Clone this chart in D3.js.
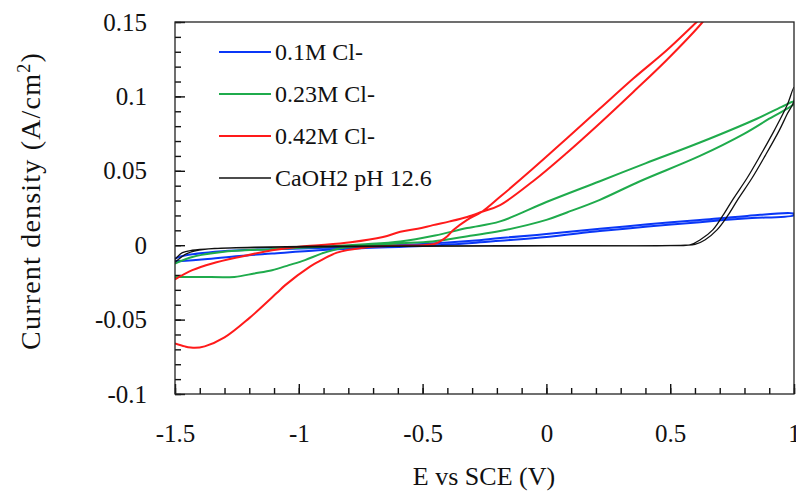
<!DOCTYPE html>
<html>
<head>
  <meta charset="utf-8">
  <title>Cyclic voltammetry</title>
  <script src="https://d3js.org/d3.v7.min.js"></script>
  <style>
    body { margin: 0; background: #fff; }
    text { font-family: "Liberation Serif", "Times New Roman", serif; fill: #111; }
  </style>
</head>
<body>
  <svg id="grafico"></svg>

  <script>
    // E vs SCE (V), current density (A/cm2) -- each curve is a loop (forward + return scan)
    const cl01 = [
      [-1.5, -0.011], [-1.38, -0.0094], [-1.24, -0.0072], [-1.108, -0.0056], [-0.92, -0.0034],
      [-0.75, -0.002], [-0.5, -0.0005], [-0.3, 0.0015], [-0.187, 0.003], [0.0, 0.0055],
      [0.216, 0.0095], [0.41, 0.0125], [0.62, 0.0155], [0.8, 0.018], [1.0, 0.0202],
      [1.0, 0.0212], [0.8, 0.0195], [0.62, 0.017], [0.41, 0.014], [0.216, 0.011],
      [0.0, 0.0075], [-0.187, 0.0048], [-0.3, 0.003], [-0.5, 0.0008], [-0.75, -0.0008],
      [-0.92, -0.0018], [-1.11, -0.0027], [-1.31, -0.004], [-1.47, -0.0072], [-1.5, -0.009]
    ];

    const cl023 = [
      [-1.5, -0.0213], [-1.4, -0.0213], [-1.26, -0.0213], [-1.18, -0.019], [-1.108, -0.0168],
      [-1.04, -0.0134], [-0.975, -0.010], [-0.906, -0.0055], [-0.83, -0.002], [-0.7, 0.0],
      [-0.6, 0.0012], [-0.46, 0.0025], [-0.3, 0.0065], [-0.187, 0.0095], [0.0, 0.017],
      [0.083, 0.022], [0.216, 0.0305], [0.378, 0.043], [0.62, 0.060], [0.8, 0.075],
      [0.9, 0.085], [1.0, 0.095],
      [1.0, 0.0965], [0.95, 0.093], [0.85, 0.085], [0.62, 0.069], [0.4, 0.055],
      [0.216, 0.043], [0.0, 0.029], [-0.187, 0.016], [-0.32, 0.0115], [-0.45, 0.0065],
      [-0.59, 0.0025], [-0.75, 0.0005], [-0.92, -0.0012], [-1.11, -0.0027], [-1.31, -0.0045],
      [-1.43, -0.0079], [-1.5, -0.0123]
    ];

    const cl042 = [
      [-1.5, -0.066], [-1.46, -0.068], [-1.42, -0.069], [-1.38, -0.068], [-1.3, -0.062],
      [-1.2, -0.049], [-1.088, -0.032], [-1.056, -0.027], [-0.955, -0.0144],
      [-0.92, -0.011], [-0.846, -0.005], [-0.74, -0.0017], [-0.6, -0.0003], [-0.5, 0.0],
      [-0.45, 0.001], [-0.43, 0.0025], [-0.4, 0.006], [-0.377, 0.010], [-0.32, 0.017],
      [-0.26, 0.0225], [-0.187, 0.0325], [-0.054, 0.0515], [0.082, 0.0717], [0.216, 0.0918],
      [0.351, 0.112], [0.486, 0.131], [0.607, 0.150], [0.62, 0.152],
      [0.64, 0.152], [0.631, 0.150], [0.486, 0.1245], [0.351, 0.103], [0.216, 0.082],
      [0.082, 0.062], [-0.054, 0.043], [-0.187, 0.027], [-0.26, 0.0225], [-0.32, 0.019],
      [-0.39, 0.016], [-0.458, 0.0135], [-0.52, 0.011], [-0.59, 0.009], [-0.66, 0.0055],
      [-0.79, 0.002], [-0.92, 0.0], [-1.0, -0.001], [-1.108, -0.0034], [-1.24, -0.0079],
      [-1.35, -0.0123], [-1.43, -0.0168], [-1.5, -0.023]
    ];

    const caoh2 = [
      [-1.5, -0.0095], [-1.47, -0.005], [-1.43, -0.0034], [-1.34, -0.0022], [-1.18, -0.0013],
      [-0.92, -0.0007], [-0.5, -0.0004], [0.0, -0.0003], [0.5, -0.0003], [0.58, 0.0002],
      [0.62, 0.0035], [0.673, 0.0105], [0.713, 0.020], [0.754, 0.031], [0.81, 0.045],
      [0.863, 0.060], [0.92, 0.077], [0.972, 0.094], [1.0, 0.106],
      [1.0, 0.097], [0.972, 0.088], [0.94, 0.077], [0.883, 0.060], [0.83, 0.045],
      [0.774, 0.031], [0.733, 0.020], [0.69, 0.0105], [0.64, 0.0035], [0.6, 0.0005],
      [0.56, 0.0], [0.0, -0.0005], [-0.6, -0.0008], [-1.0, -0.0012], [-1.25, -0.0018],
      [-1.38, -0.0028], [-1.45, -0.0055], [-1.5, -0.0115]
    ];

    const nombres = ["0.1M Cl-", "0.23M Cl-", "0.42M Cl-", "CaOH2 pH 12.6"];
    const colores = ["#0a37f7", "#1fab4c", "#ff1a1a", "#111111"];
    const anchos = [2, 2, 2, 1.3];
    const series = [cl01, cl023, cl042, caoh2];

    const xTicks = [-1.5, -1, -0.5, 0, 0.5, 1];
    const yTicks = [-0.1, -0.05, 0, 0.05, 0.1, 0.15];

    const svg = d3.select("#grafico")
      .attr("width", 796)
      .attr("height", 493);

    const x = d3.scaleLinear().domain([-1.5, 1]).range([175, 794]);
    const y = d3.scaleLinear().domain([-0.1, 0.15]).range([394, 22]);

    svg.append("clipPath").attr("id", "recorte")
      .append("rect")
      .attr("x", 175).attr("y", 22)
      .attr("width", 619).attr("height", 372);

    // ejes: ticks hacia dentro
    const xMenores = d3.range(-15, 11).map(d => d / 10);
    const yMenores = d3.range(-10, 16).map(d => d / 100);

    function estilo(g) {
      g.select(".domain").remove();
      g.selectAll(".tick line")
        .attr("stroke", "#111")
        .attr("stroke-width", 1.4);
      g.selectAll(".tick text")
        .attr("font-size", 25)
        .attr("fill", "#111");
    }

    svg.append("g")
      .attr("transform", "translate(0,394)")
      .call(d3.axisBottom(x).tickValues(xMenores).tickSizeInner(-6).tickSizeOuter(0).tickFormat(() => ""))
      .call(estilo);

    svg.append("g")
      .attr("transform", "translate(0,394)")
      .call(d3.axisBottom(x).tickValues(xTicks).tickSizeInner(-10).tickSizeOuter(0).tickPadding(30).tickFormat(d => String(d)))
      .call(estilo);

    svg.append("g")
      .attr("transform", "translate(175,0)")
      .call(d3.axisLeft(y).tickValues(yMenores).tickSizeInner(-6).tickSizeOuter(0).tickFormat(() => ""))
      .call(estilo);

    svg.append("g")
      .attr("transform", "translate(175,0)")
      .call(d3.axisLeft(y).tickValues(yTicks).tickSizeInner(-10).tickSizeOuter(0).tickPadding(28).tickFormat(d => String(d)))
      .call(estilo);

    // curvas
    const linea = d3.line()
      .x(d => x(d[0]))
      .y(d => y(d[1]))
      .curve(d3.curveCatmullRom.alpha(0.5));

    svg.append("g")
      .attr("clip-path", "url(#recorte)")
      .selectAll("path")
      .data(series)
      .join("path")
      .attr("d", linea)
      .attr("fill", "none")
      .attr("stroke", (d, i) => colores[i])
      .attr("stroke-width", (d, i) => anchos[i])
      .attr("stroke-linejoin", "round");

    // marco
    svg.append("rect")
      .attr("x", 175).attr("y", 22)
      .attr("width", 619).attr("height", 372)
      .attr("fill", "none")
      .attr("stroke", "#222")
      .attr("stroke-width", 1.3);

    // leyenda
    const leyenda = svg.append("g")
      .selectAll("g")
      .data(nombres)
      .join("g")
      .attr("transform", (d, i) => `translate(219,${52 + i * 42})`);

    leyenda.append("line")
      .attr("x1", 0).attr("x2", 52)
      .attr("stroke", (d, i) => colores[i])
      .attr("stroke-width", (d, i) => anchos[i]);

    leyenda.append("text")
      .attr("x", 56)
      .attr("y", 8)
      .attr("font-size", 24)
      .text(d => d);

    // titulos
    svg.append("text")
      .attr("x", 484)
      .attr("y", 485)
      .attr("text-anchor", "middle")
      .attr("font-size", 26)
      .text("E vs SCE (V)");

    const titY = svg.append("text")
      .attr("transform", "translate(40,201) rotate(-90)")
      .attr("text-anchor", "middle")
      .attr("font-size", 28)
      .attr("letter-spacing", 1.2);
    titY.append("tspan").text("Current density (A/cm");
    titY.append("tspan").attr("dy", -10).attr("font-size", 18).text("2");
    titY.append("tspan").attr("dy", 10).text(")");
  </script>
</body>
</html>
